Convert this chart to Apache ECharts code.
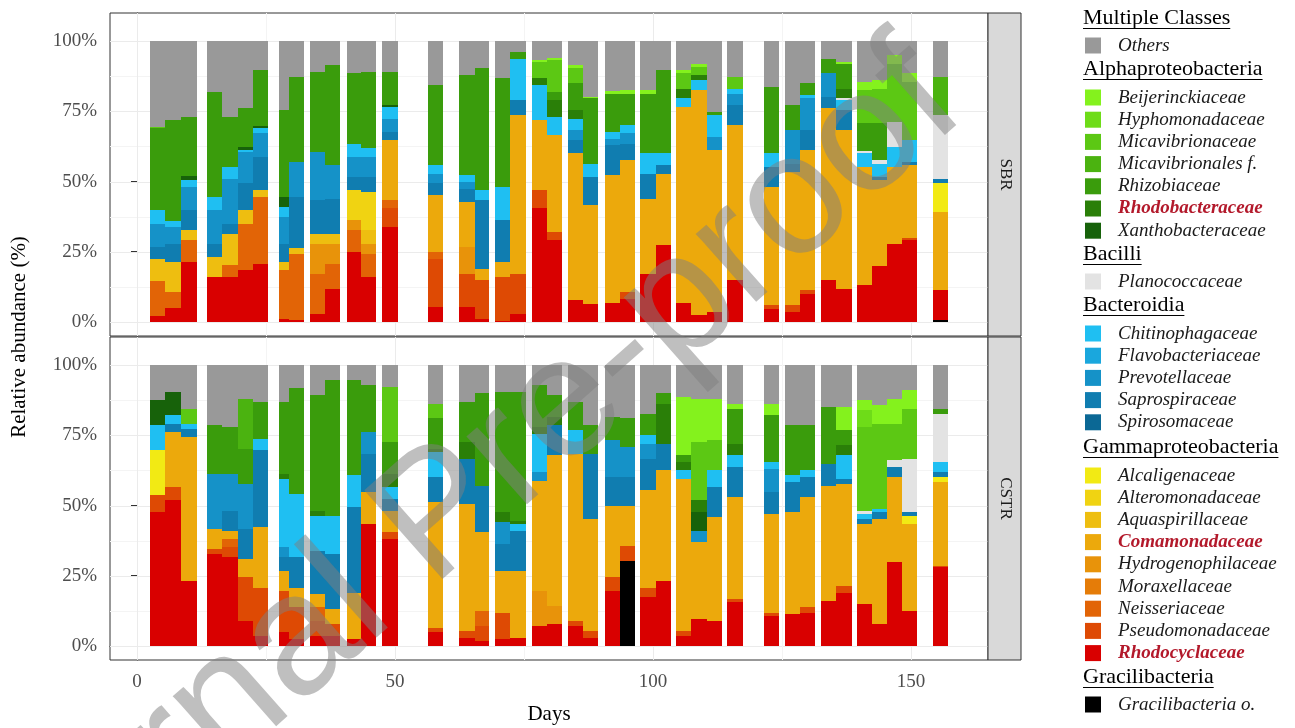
<!DOCTYPE html>
<html><head><meta charset="utf-8">
<script src="https://cdn.jsdelivr.net/npm/echarts@6/dist/echarts.min.js"></script>
<style>html,body{margin:0;padding:0;background:#fff}#c{width:1295px;height:728px}</style>
</head><body><div id="c"></div>
<script>
// ---------- x data: sample spans in days ----------
const sampleStart = [2.5,5.5,8.5, 13.5,16.5,19.5,22.5, 27.6,29.5, 33.5,36.4, 40.6,43.5, 47.5, 56.3, 62.4,65.4, 69.4,72.3, 76.6,79.4, 83.5,86.5, 90.6,93.6, 97.5,100.5, 104.5,107.4,110.5, 114.4, 121.4, 125.5,128.4, 132.5,135.5, 139.5,142.4,145.4,148.3, 154.3];
const sampleEnd   = [5.5,8.5,11.6, 16.5,19.5,22.5,25.4, 29.5,32.4, 36.4,39.3, 43.5,46.3, 50.5, 59.3, 65.4,68.3, 72.3,75.4, 79.4,82.4, 86.5,89.4, 93.6,96.5, 100.5,103.4, 107.4,110.5,113.3, 117.4, 124.4, 128.4,131.3, 135.5,138.5, 142.4,145.4,148.3,151.2, 157.2];

const families = ['Others','Beijerinckiaceae','Hyphomonadaceae','Micavibrionaceae','Micavibrionales f.','Rhizobiaceae','Rhodobacteraceae','Xanthobacteraceae','Planococcaceae','Chitinophagaceae','Flavobacteriaceae','Prevotellaceae','Saprospiraceae','Spirosomaceae','Alcaligenaceae','Alteromonadaceae','Aquaspirillaceae','Comamonadaceae','Hydrogenophilaceae','Moraxellaceae','Neisseriaceae','Pseudomonadaceae','Rhodocyclaceae','Gracilibacteria o.'];
const classNames = ['Multiple Classes','Alphaproteobacteria','Bacilli','Bacteroidia','Gammaproteobacteria','Gracilibacteria'];
const classMembers = [['Others'],['Beijerinckiaceae','Hyphomonadaceae','Micavibrionaceae','Micavibrionales f.','Rhizobiaceae','Rhodobacteraceae','Xanthobacteraceae'],['Planococcaceae'],['Chitinophagaceae','Flavobacteriaceae','Prevotellaceae','Saprospiraceae','Spirosomaceae'],['Alcaligenaceae','Alteromonadaceae','Aquaspirillaceae','Comamonadaceae','Hydrogenophilaceae','Moraxellaceae','Neisseriaceae','Pseudomonadaceae','Rhodocyclaceae'],['Gracilibacteria o.']];
const highlighted = ['Rhodobacteraceae','Comamonadaceae','Rhodocyclaceae'];
const panels = ['SBR','CSTR'];
const yTickValues = [0,25,50,75,100];
const xTickValues = [0,50,100,150];
const yGridValues = [0,12.5,25,37.5,50,62.5,75,87.5,100];
const xGridValues = [0,25,50,75,100,125,150];

// ---------- SBR values (%) ----------
const sbr_Others = [30.5,28.2,27.0,18.1,27.0,24.0,10.3,24.6,12.7,10.9, 8.5,11.5,10.9,10.9,15.7,12.1,9.7,13.3,3.8,6.8, 6.0,8.5,19.8,17.8,17.5,17.5,10.3,10.3,8.0,25.2, 12.7,16.2,22.8,15.1,6.2,7.4,14.5,13.9,5.0,11.5, 12.7];
const sbr_Beijerinckiaceae = [0,0,0,0,0,0,0,0,0,0, 0,0,0,0,0,0,0,0,0,0.6, 0.8,1.2,0.6,0.9,1.2,1.2,0,1.2,1.1,0, 0,0,0,0,0,0.6,3.0,3.0,3.0,3.0, 0];
const sbr_Hyphomonadaceae = [0,0,0,0,0,0,0,0,0,0, 0,0,0,0,0,0,0,0,0,0, 0,0,0,0,0,0,0,0,0,0, 0,0,0,0,0,0,0,0,0,0, 0];
const sbr_Micavibrionaceae = [0.6,0,0,0,0,0,0,0,0,0, 0,0,0,0,0,0,0,0,0,5.9, 11.2,5.4,0,0,0,0,0,5.4,3.0,0, 4.2,0,0,0,0,0,11.8,12.4,20.8,20.8, 0];
const sbr_Micavibrionales = [0,0,0,0,0,0,0,0,0,0, 0,0,0,0,0,0,0,0,0,0, 0,0,0,0,0,0,0,0,0,0, 0,0,0,0,0,0,0,0,0,0, 13.7];
const sbr_Rhizobiaceae = [28.9,35.9,21.1,37.4,17.8,13.7,20.0,30.9,30.3,28.5, 35.7,25.0,27.0,11.7,28.5,35.6,43.4,38.6,2.4,0, 3.0,9.5,23.2,13.6,11.2,21.3,29.7,0,0,1.2, 0,23.8,8.9,4.2,5.3,8.9,9.8,13.1,0,0, 0];
const sbr_Rhodobacteraceae = [0,0,0,0,0,0,0,0,0,0, 0,0,0,0,0,0,0,0,0,2.4, 6.0,3.0,0,0,0,0,0,3.5,1.8,0, 0,0,0,0,0,3.2,0,0,0,0, 0];
const sbr_Xanthobacteraceae = [0,0,1.5,0,0,0.9,0.8,3.6,0,0, 0,0,0,0.8,0,0,0,0,0,0, 0,0,0,0,0,0,0,0,0,0, 0,0,0,0,0,0,0,0,0,0, 0];
const sbr_Planococcaceae = [0,0,0,0,0,0,0,0,0,0, 0,0,0,0,0,0,0,0,0,0, 0,0,0,0,0,0,0,0,0,0, 0,0,0,0,0,0.9,0.9,1.2,8.9,0, 22.6];
const sbr_Chitinophagaceae = [5.0,2.1,2.3,4.8,4.2,0.8,1.8,3.5,0,0, 0,4.7,3.3,4.2,3.0,2.4,3.6,11.9,14.8,12.4, 6.5,4.1,4.8,2.4,3.0,7.2,4.2,3.0,3.6,7.7, 1.8,4.8,0,1.1,0,3.6,4.8,4.8,7.1,7.7, 0];
const sbr_Flavobacteriaceae = [0,0,0,0,0,0,0,0,0,0, 0,0,0,0,0,0,0,0,0,0, 0,0,0,0,0,0,0,0,0,0, 0,0,0,0,0,0,0,0,0,0, 0];
const sbr_Prevotellaceae = [8.3,5.9,8.4,11.8,16.0,11.3,8.3,9.5,12.5,17.3, 11.9,7.2,7.2,4.7,3.5,2.4,0,0,0,0, 0,3.6,0,2.3,3.6,0,0,0,0,4.8, 4.1,0,11.9,11.3,8.3,0,0,0,0,0, 0];
const sbr_Saprospiraceae = [4.2,6.6,7.1,4.8,3.6,9.6,11.9,6.6,18.1,11.9, 12.5,4.7,5.3,3.0,4.2,4.8,24.3,14.9,5.4,0, 0,4.7,10.1,10.7,5.9,8.9,3.0,0,0,0, 7.1,7.1,3.0,7.2,4.2,7.1,0,1.2,0,1.2, 1.7];
const sbr_Spirosomaceae = [0,0,0,0,0,0,0,0,0,0, 0,0,0,0,0,0,0,0,0,0, 0,0,0,0,0,0,0,0,0,0, 0,0,0,0,0,0,0,0,0,0, 0];
const sbr_Alcaligenaceae = [0,0,0,0,0,0,0,0,0,0, 0,0,0,0,0,0,0,0,0,0, 0,0,0,0,0,0,0,0,0,0, 0,0,0,0,0,0,0,0,0,0, 10.1];
const sbr_Alteromonadaceae = [0,0,0,0,0,0,0,0,0,0, 0,10.7,13.7,0,0,0,0,0,0,0, 0,0,0,0,0,0,0,0,0,0, 0,0,0,0,0,0,0,0,0,0, 0];
const sbr_Aquaspirillaceae = [7.9,10.7,3.5,7.1,11.2,4.7,2.4,2.9,2.1,3.5, 3.5,0,4.7,0,0,0,0,0,0,0, 0,0,0,0,0,0,0,0,0,0, 0,0,0,0,0,0,0,0,0,0, 0];
const sbr_Comamonadaceae = [0,0,0,0,0,0,0,0,0,0, 0,0,0,21.4,20.2,16.0,4.2,5.3,56.4,25.0, 34.5,52.3,35.0,45.6,47.0,26.7,25.5,69.9,80.2,57.6, 55.3,42.2,47.5,49.9,61.0,56.5,42.2,30.3,27.3,25.9, 28.0];
const sbr_Hydrogenophilaceae = [0,0,0,0,0,0,0,0,0,10.7, 7.2,3.6,3.6,0,0,9.5,0,0,0,0, 0,0,0,0,0,0,0,0,0,0, 0,0,0,0,0,0,0,0,0,0, 0];
const sbr_Moraxellaceae = [0,0,0,0,0,0,0,0,0,0, 0,0,0,0,0,0,0,0,0,0, 0,0,0,0,0,0,0,0,0,0, 0,0,0,0,0,0,0,0,0,0, 0];
const sbr_Neisseriaceae = [12.6,5.7,7.8,0,4.2,16.6,23.8,17.3,23.5,14.3, 8.9,7.7,8.3,2.9,2.4,0,0,0,0,0, 0,0,0,0,0,0,0,0,0,0, 0,0,0,0,0,0,0,0,0,0, 0];
const sbr_Pseudomonadaceae = [0,0,0,0,0,0,0,0,0,0, 0,0,0,6.6,17.2,11.9,13.7,15.5,14.3,6.5, 2.9,0,0,0,2.3,0,0,0,0,0, 0,1.2,2.4,1.2,0,0,0,0,0,0.6, 0];
const sbr_Rhodocyclaceae = [2.0,4.9,21.3,16.0,16.0,18.4,20.7,1.1,0.8,2.9, 11.8,24.9,16.0,33.8,5.3,5.3,1.1,0.5,2.9,40.4, 29.1,7.7,6.5,6.7,8.3,17.2,27.3,6.7,2.3,3.5, 14.8,4.7,3.5,10.0,15.0,11.8,13.0,20.1,27.9,29.3, 10.4];
const sbr_Gracilibacteria = [0,0,0,0,0,0,0,0,0,0, 0,0,0,0,0,0,0,0,0,0, 0,0,0,0,0,0,0,0,0,0, 0,0,0,0,0,0,0,0,0,0, 0.8];

// ---------- CSTR values (%) ----------
const cstr_Others = [12.5,9.5,15.5,21.4,22.0,11.9,13.1,13.1,8.3,10.7, 5.4,5.4,7.1,7.7,13.7,13.1,10.1,9.5,9.5,7.1, 10.7,13.1,21.4,18.5,19.0,17.3,10.1,11.3,11.9,11.9, 13.7,13.7,21.4,21.4,14.9,14.9,12.5,14.3,11.9,8.9, 15.5];
const cstr_Beijerinckiaceae = [0,0,0,0,0,0,0,0,0,0, 0,0,0,0,0,0,0,0,0,0, 0,0,0,0,0,0,0,20.8,15.5,14.9, 1.8,4.2,0,0,0,8.3,3.6,6.5,8.9,6.6, 0];
const cstr_Hyphomonadaceae = [0,0,0,0,0,0,0,0,0,0, 0,0,0,0,0,0,0,0,0,0, 0,0,0,0,0,0,0,0,0,0, 0,0,0,0,0,0,5.9,0,0,0, 0];
const cstr_Micavibrionaceae = [0,0,5.3,0,0,0,0,0,0,0, 0,0,0,19.7,5.3,0,0,0,0,0, 0,0,0,0,0,0,0,0,20.8,10.7, 0,0,0,0,0,0,29.8,30.4,13.1,17.8, 0];
const cstr_Micavibrionales = [0,0,0,0,0,17.9,0,0,0,0, 0,0,0,0,0,0,0,0,0,0, 0,0,0,0,0,0,0,0,0,0, 0,0,0,0,0,0,0,0,0,0, 0];
const cstr_Rhizobiaceae = [0,0,0,17.3,16.7,12.5,13.1,25.6,37.5,41.1, 48.2,33.9,16.7,11.3,10.8,14.3,32.8,42.9,45.9,14.9, 7.8,10.1,10.1,8.3,10.2,7.7,3.6,2.4,0,0, 12.5,16.6,17.9,16.1,20.2,5.4,0,0,0,0, 1.8];
const cstr_Rhodobacteraceae = [0,0,0,0,0,0,0,1.8,0,1.8, 0,0,0,4.8,1.2,5.9,0,3.6,1.1,2.4, 2.9,0,0,0,0,0,14.3,3.0,4.2,0, 4.1,0,0,0,0,3.5,0,0,0,0, 0];
const cstr_Xanthobacteraceae = [8.9,8.4,0,0,0,0,0,0,0,0, 0,0,0,0,0,0,0,0,0,0, 0,0,0,0,0,0,0,0,6.5,0, 0,0,0,0,0,0,0,0,0,0, 0];
const cstr_Planococcaceae = [0,0,0,0,0,0,0,0,0,0, 0,0,0,0,0,0,0,0,0,0, 0,0,0,0,0,0,0,0,0,0, 0,0,0,0,0,0,1.2,0,2.4,19.1, 17.2];
const cstr_Chitinophagaceae = [9.0,2.9,1.8,0,0,0,4.2,24.4,22.7,12.5, 13.7,11.3,0,4.1,8.9,0,0,0,2.4,13.7, 0,8.3,0,0,0,3.0,0,3.0,0,6.0, 4.2,2.4,2.4,2.4,0,8.4,1.8,1.2,0,0, 3.6];
const cstr_Flavobacteriaceae = [0,0,0,0,0,0,0,0,0,0, 0,0,0,0,0,0,0,0,0,0, 0,0,0,0,0,0,0,0,0,0, 0,0,0,0,0,0,0,0,0,0, 0];
const cstr_Prevotellaceae = [0,0,0,19.6,13.1,16.0,0,3.6,0,0, 0,0,7.7,0,0,0,0,7.7,0,3.0, 0,0,0,13.1,10.7,5.3,0,0,4.2,0, 0,8.3,0,0,0,0,0,0,0,0, 0];
const cstr_Saprospiraceae = [0,3.0,3.0,0,7.1,10.7,27.3,4.7,10.7,15.4, 19.6,30.4,13.7,4.2,8.9,16.1,16.6,9.5,14.3,0, 10.7,0,23.3,10.1,10.1,11.3,9.5,0,0,10.7, 10.7,7.8,10.7,7.1,7.8,1.8,1.7,2.4,3.6,1.2, 1.8];
const cstr_Spirosomaceae = [0,0,0,0,0,0,0,0,0,0, 0,0,0,0,0,0,0,0,0,0, 0,0,0,0,0,0,0,0,0,0, 0,0,0,0,0,0,0,0,0,0, 0];
const cstr_Alcaligenaceae = [16.0,0,0,0,0,0,0,0,0,0, 0,0,0,0,0,0,0,0,0,0, 0,0,0,0,0,0,0,0,0,0, 0,0,0,0,0,0,0,0,0,2.9, 1.8];
const cstr_Alteromonadaceae = [0,0,0,0,0,0,0,0,0,0, 0,0,0,0,0,0,0,0,0,0, 0,0,0,0,0,0,0,0,0,0, 0,0,0,0,0,0,0,0,0,0, 0];
const cstr_Aquaspirillaceae = [0,0,0,0,0,0,0,0,0,0, 0,0,0,0,0,0,0,0,0,0, 0,0,0,0,0,0,0,0,0,0, 0,0,0,0,0,0,0,0,0,0, 0];
const cstr_Comamonadaceae = [0,19.7,51.2,7.2,3.0,6.6,21.5,7.2,7.1,4.8, 5.4,16.6,11.3,7.7,44.7,45.2,28.0,14.9,23.8,39.3, 53.6,59.6,39.8,25.6,14.3,34.6,39.3,54.1,27.4,36.9, 36.3,35.1,36.3,39.3,41.0,36.3,28.6,37.5,30.3,31.0, 29.7];
const cstr_Hydrogenophilaceae = [0,0,0,0,0,0,0,0,0,0, 0,0,0,0,0,0,0,0,0,12.5, 6.6,0,0,0,0,0,0,0,0,0, 0,0,0,0,0,0,0,0,0,0, 0];
const cstr_Moraxellaceae = [0,0,0,0,0,0,0,0,0,0, 0,0,0,0,0,0,0,0,0,0, 0,0,0,0,0,0,0,0,0,0, 0,0,0,0,0,0,0,0,0,0, 0];
const cstr_Neisseriaceae = [0,0,0,0,3.0,0,0,0,0,4.8, 0,0,0,0,0,0,5.4,0,0,0, 0,0,0,0,0,0,0,0,0,0, 0,0,0,0,0,0,0,0,0,0, 0];
const cstr_Pseudomonadaceae = [6.0,4.7,0,1.8,3.6,15.5,17.2,14.8,11.3,5.3, 4.1,0,0,2.4,1.7,2.4,5.3,9.5,0,0, 0,1.8,2.4,4.8,5.3,3.5,0,1.8,0,0, 1.2,1.2,0,1.8,0,2.4,0,0,0,0, 0.6];
const cstr_Rhodocyclaceae = [47.6,51.8,23.2,32.7,31.5,8.9,3.6,4.8,2.4,3.6, 3.6,2.4,43.5,38.1,4.8,3.0,1.8,2.4,3.0,7.1, 7.7,7.1,3.0,19.6,0,17.3,23.2,3.6,9.5,8.9, 15.5,10.7,11.3,11.9,16.1,19.0,14.9,7.7,29.8,12.5, 28.0];
const cstr_Gracilibacteria = [0,0,0,0,0,0,0,0,0,0, 0,0,0,0,0,0,0,0,0,0, 0,0,0,0,30.4,0,0,0,0,0, 0,0,0,0,0,0,0,0,0,0, 0];

// ---------- styles ----------
const familyColors = ['#999999','#84F21D','#6EDC18','#5CC814','#4BB310','#3A9C0C','#2A7F08','#17620A','#E3E3E3','#1FBFF2','#1AA7DD','#1592C8','#107DB0','#0B6895','#F2EA14','#F0D312','#EEBE10','#ECA90C','#E8930A','#E57C08','#E26406','#DE4A04','#D90000','#000000'];
const SERIF = '"Liberation Serif","DejaVu Serif",serif';

const sbrValues = [sbr_Others,sbr_Beijerinckiaceae,sbr_Hyphomonadaceae,sbr_Micavibrionaceae,sbr_Micavibrionales,sbr_Rhizobiaceae,sbr_Rhodobacteraceae,sbr_Xanthobacteraceae,sbr_Planococcaceae,sbr_Chitinophagaceae,sbr_Flavobacteriaceae,sbr_Prevotellaceae,sbr_Saprospiraceae,sbr_Spirosomaceae,sbr_Alcaligenaceae,sbr_Alteromonadaceae,sbr_Aquaspirillaceae,sbr_Comamonadaceae,sbr_Hydrogenophilaceae,sbr_Moraxellaceae,sbr_Neisseriaceae,sbr_Pseudomonadaceae,sbr_Rhodocyclaceae,sbr_Gracilibacteria];
const cstrValues = [cstr_Others,cstr_Beijerinckiaceae,cstr_Hyphomonadaceae,cstr_Micavibrionaceae,cstr_Micavibrionales,cstr_Rhizobiaceae,cstr_Rhodobacteraceae,cstr_Xanthobacteraceae,cstr_Planococcaceae,cstr_Chitinophagaceae,cstr_Flavobacteriaceae,cstr_Prevotellaceae,cstr_Saprospiraceae,cstr_Spirosomaceae,cstr_Alcaligenaceae,cstr_Alteromonadaceae,cstr_Aquaspirillaceae,cstr_Comamonadaceae,cstr_Hydrogenophilaceae,cstr_Moraxellaceae,cstr_Neisseriaceae,cstr_Pseudomonadaceae,cstr_Rhodocyclaceae,cstr_Gracilibacteria];

function renderRect(params, api) {
  const a = api.coord([api.value(0), api.value(3)]);
  const b = api.coord([api.value(1), api.value(2)]);
  const x0 = Math.round(a[0]), x1 = Math.round(b[0]);
  const y0 = Math.round(a[1]), y1 = Math.round(b[1]);
  if (y1 - y0 <= 0 || x1 - x0 <= 0) return null;
  return {type:'rect', shape:{x:x0, y:y0, width:x1-x0, height:y1-y0}, style:{fill: api.visual('color')}};
}

function panelSeries(values, idx) {
  const n = sampleStart.length;
  const base = new Array(n).fill(0);
  const out = [];
  for (let f = families.length - 1; f >= 0; f--) {
    const data = [];
    for (let i = 0; i < n; i++) {
      const v = values[f][i];
      if (v > 0) { data.push([sampleStart[i], sampleEnd[i], base[i], base[i] + v]); base[i] += v; }
    }
    out.push({type:'custom', name: families[f], xAxisIndex: idx, yAxisIndex: idx, renderItem: renderRect,
      itemStyle:{color: familyColors[f]}, data: data, encode:{x:[0,1], y:[2,3]}, z: 2, silent: true, animation:false});
  }
  return out;
}

function gridSeries(idx) {
  return [
    {type:'custom', xAxisIndex: idx, yAxisIndex: idx, silent:true, z:1, animation:false,
     data: yGridValues.map(v => [0, v]), encode:{x:0, y:1},
     renderItem: (params, api) => {
       const cs = params.coordSys; const v = api.value(1);
       const y = Math.round(api.coord([0, v])[1]) + 0.5; const major = v % 25 === 0;
       return {type:'line', shape:{x1:cs.x, y1:y, x2:cs.x + cs.width, y2:y}, style:{stroke: major ? '#EBEBEB' : '#F4F4F4', lineWidth: 1}};
     }},
    {type:'custom', xAxisIndex: idx, yAxisIndex: idx, silent:true, z:1, animation:false,
     data: xGridValues.map(v => [v, 0]), encode:{x:0, y:1},
     renderItem: (params, api) => {
       const cs = params.coordSys; const v = api.value(0);
       const x = Math.round(api.coord([v, 0])[0]) + 0.5; const major = v % 50 === 0;
       return {type:'line', shape:{x1:x, y1:cs.y, x2:x, y2:cs.y + cs.height}, style:{stroke: major ? '#EBEBEB' : '#F4F4F4', lineWidth: 1}};
     }}
  ];
}

const chart = echarts.init(document.getElementById('c'), null, {renderer:'canvas'});

const xMin = -5.23, xMax = 164.9, yMin = -5, yMax = 110;
const grids = [
  {left:110, width:878, top:13, height:323, show:true, borderColor:'#333', borderWidth:1, backgroundColor:'#fff'},
  {left:110, width:878, top:337, height:323, show:true, borderColor:'#333', borderWidth:1, backgroundColor:'#fff'}
];
const xAxes = [0,1].map(i => ({
  type:'value', gridIndex:i, min:xMin, max:xMax, splitLine:{show:false},
  axisLine:{show: i===1, lineStyle:{color:'#333'}},
  axisTick:{show: i===1, length:6, lineStyle:{color:'#333'}, customValues: xTickValues},
  axisLabel:{show: i===1, customValues: xTickValues, margin:13, fontFamily:SERIF, fontSize:19, color:'#4D4D4D'},
  name: i===1 ? 'Days' : '', nameLocation:'middle', nameGap:44,
  nameTextStyle:{fontFamily:SERIF, fontSize:21, color:'#000'}
}));
const yAxes = [0,1].map(i => ({
  type:'value', gridIndex:i, min:yMin, max:yMax, splitLine:{show:false},
  axisLine:{show:true, lineStyle:{color:'#333'}},
  axisTick:{show:true, length:6, lineStyle:{color:'#333'}, customValues: yTickValues},
  axisLabel:{customValues: yTickValues, margin:13, formatter: v => v + '%', fontFamily:SERIF, fontSize:19, color:'#4D4D4D'}
}));

// legend layout (pixel positions of headers and first items)
const headerY = [17, 68, 253, 304, 446, 676];
const firstItemY = [44, 96, 280, 332, 474, 703];
const legends = classMembers.map((names, g) => ({
  orient:'vertical', left:1085, top:firstItemY[g] - 8, padding:0, itemWidth:16, itemHeight:16, itemGap:3.2,
  icon:'rect', data:names, selectedMode:false,
  formatter: name => highlighted.includes(name) ? '{h|' + name + '}' : '{n|' + name + '}',
  textStyle:{fontFamily:SERIF, fontSize:19, fontStyle:'italic', color:'#1A1A1A', lineHeight:16, padding:[0,0,0,12],
    rich:{
      n:{fontFamily:SERIF, fontSize:19, fontStyle:'italic', color:'#1A1A1A', lineHeight:16},
      h:{fontFamily:SERIF, fontSize:19, fontStyle:'italic', fontWeight:'bold', color:'#B3192B', lineHeight:16}
    }}
}));

const mctx = document.createElement('canvas').getContext('2d');
function textW(t, font) { mctx.font = font; return mctx.measureText(t).width; }
const headerFont = '22px "Liberation Serif"';
const graphics = [];
classNames.forEach((h, g) => {
  const w = textW(h, headerFont);
  graphics.push({type:'text', left:1083, top:headerY[g] - 10, style:{text:h, font:headerFont, fill:'#000'}});
  graphics.push({type:'line', shape:{x1:1083, y1:headerY[g] + 11.5, x2:1083 + w, y2:headerY[g] + 11.5}, style:{stroke:'#000', lineWidth:1}});
});
// facet strips
const stripTops = [13, 337];
panels.forEach((p, i) => {
  graphics.push({type:'rect', shape:{x:988, y:stripTops[i], width:33, height:323}, style:{fill:'#D9D9D9', stroke:'#333', lineWidth:1}, z:5});
  graphics.push({type:'text', x:1005, y:stripTops[i] + 161.5, rotation:-Math.PI/2,
    style:{text:p, font:'17px "Liberation Serif"', fill:'#1A1A1A', textAlign:'center', textVerticalAlign:'middle', align:'center', verticalAlign:'middle'}, z:6});
});
// y axis title
graphics.push({type:'text', x:19, y:337, rotation:Math.PI/2,
  style:{text:'Relative abundance (%)', font:'21px "Liberation Serif"', fill:'#000', textAlign:'center', textVerticalAlign:'middle', align:'center', verticalAlign:'middle'}});
// watermark
graphics.push({type:'text', x:440, y:518, rotation:0.724, z:100, silent:true,
  style:{text:'Journal Pre-proof', font:'172px "Liberation Sans"', fill:'rgba(128,128,128,0.5)', textAlign:'center', textVerticalAlign:'middle', align:'center', verticalAlign:'middle'}});

chart.setOption({
  animation:false,
  backgroundColor:'#fff',
  color: familyColors,
  grid: grids, xAxis: xAxes, yAxis: yAxes,
  legend: legends,
  series: [...gridSeries(0), ...gridSeries(1), ...panelSeries(sbrValues, 0), ...panelSeries(cstrValues, 1)],
  graphic: graphics
});
</script></body></html>
